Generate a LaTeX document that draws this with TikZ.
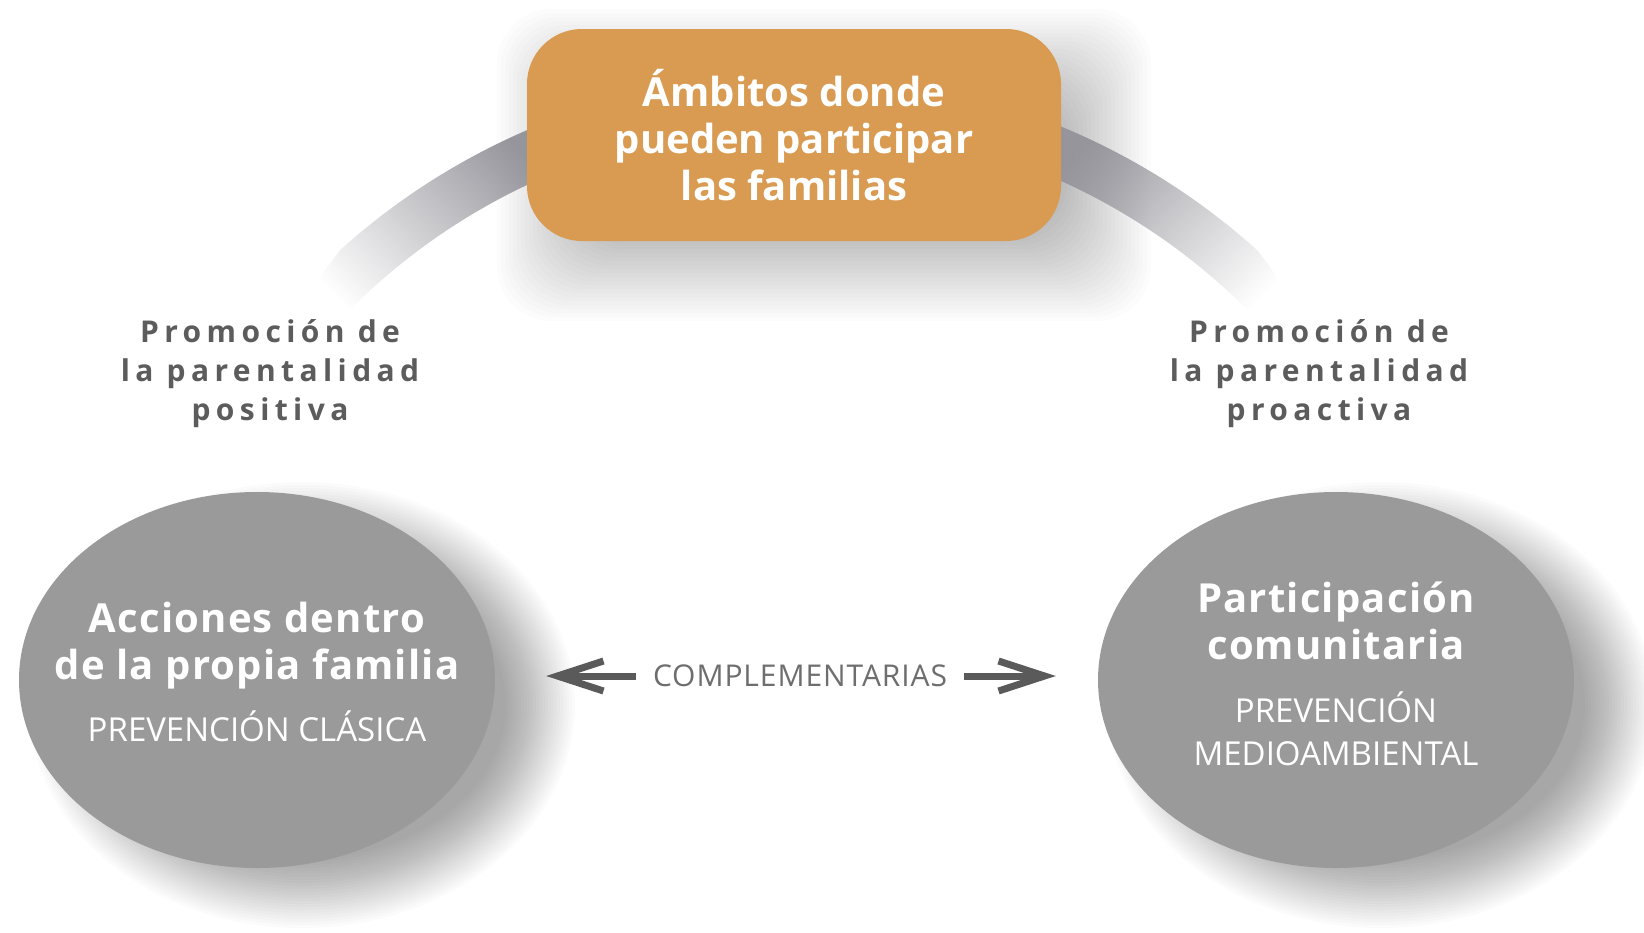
\documentclass[tikz,border=0pt]{standalone}
\usepackage{fontspec}
\setmainfont{Open Sans}
\newfontfamily\prevfamily{Open Sans}
\newcommand{\prevfont}{\prevfamily\mdseries\fontsize{33}{43}\selectfont}
\usepackage{tikz}
\usetikzlibrary{positioning, arrows.meta, shapes.geometric, calc, backgrounds, fadings}

\definecolor{ambitosorange}{RGB}{217,154,81}
\definecolor{bubblegray}{RGB}{154,154,154}
\definecolor{labelgray}{RGB}{92,92,92}
\definecolor{compgray}{RGB}{110,110,110}
\definecolor{arrowgray}{RGB}{90,90,90}
\definecolor{banddark}{RGB}{150,149,156}

\tikzfading[name=bandfade, top color=transparent!0, bottom color=transparent!100]

\begin{document}
\begin{tikzpicture}[
    x=1pt, y=1pt,
    titlebox/.style={rectangle, fill=ambitosorange, rounded corners=55pt,
                  minimum width=534pt, minimum height=212pt, align=center,
                  text=white, font=\fontsize{40}{47}\selectfont\bfseries},
    bubble/.style={ellipse, fill=bubblegray, minimum width=476pt,
                  minimum height=376pt, inner sep=0pt},
    bubbletext/.style={align=center, text=white,
                  font=\fontsize{40}{47}\selectfont\bfseries\addfontfeature{LetterSpace=3}},
    promo/.style={align=center, text=labelgray,
                  font=\fontsize{30}{39}\selectfont\bfseries\addfontfeature{LetterSpace=18}},
    arrow/.style={-{Straight Barb[length=46pt, width=30pt]}, line width=7pt, draw=arrowgray},
    complabel/.style={text=compgray, inner xsep=17pt,
                  font=\fontsize{30}{36}\selectfont\addfontfeature{LetterSpace=3}},
    band/.style={fill=banddark, path fading=bandfade}
]
    \useasboundingbox (0,0) rectangle (1644,-932);
    \coordinate (bandC) at (799,-759);

    % === Title ===
    \node[titlebox] (ambitos) at (794,-135) {Ámbitos donde\\pueden participar\\las familias};

    % === Two fields ===
    \node[bubble] (familia) at (257,-680) {};
    \node[bubbletext] (familiaTxt) at ([yshift=8pt]familia.center)
        {Acciones dentro\\de la propia familia\\[15pt]{\prevfont PREVENCIÓN CLÁSICA}};

    \node[bubble] (comunidad) at (1336,-680) {};
    \node[bubbletext] (comunidadTxt) at ([yshift=6pt]comunidad.center)
        {Participación\\comunitaria\\[16pt]{\prevfont PREVENCIÓN}\\[-4pt]{\prevfont MEDIOAMBIENTAL}};

    \node[promo] (positiva) at (270,-374) {Promoción de\\la parentalidad\\positiva};
    \node[promo] (proactiva) at (1319,-374) {Promoción de\\la parentalidad\\proactiva};

    % === Complementarias ===
    \node[complabel] (comp) at (800,-676) {COMPLEMENTARIAS};
    \draw[arrow] (comp.west) -- ($(comp.west -| familia.east)+(51,0)$);
    \draw[arrow] (comp.east) -- ($(comp.east -| comunidad.west)+(-42,0)$);

    % === Band and soft shadows ===
    \begin{scope}[on background layer]
        \fill[white] (0,0) rectangle (1644,-932);

        \foreach \k [evaluate=\k as \e using 50-4*\k] in {0,...,23}
            \fill[black, opacity=0.012, rounded corners=55pt]
                ($(ambitos.south west)+(20-\e,-30-\e)$) rectangle ($(ambitos.north east)+(40+\e,-30+\e)$);

        \fill[band, fading angle=-50]
            ([shift={(bandC)}]112:685) arc[start angle=112, end angle=132, radius=685]
            .. controls ([shift={(bandC)}]136:678) .. ([shift={(bandC)}]138.5:635)
            arc[start angle=138.5, end angle=112, radius=635] -- cycle;
        \fill[band, fading angle=50]
            ([shift={(bandC)}]68:685) arc[start angle=68, end angle=48, radius=685]
            .. controls ([shift={(bandC)}]44:678) .. ([shift={(bandC)}]41.5:635)
            arc[start angle=41.5, end angle=68, radius=635] -- cycle;

        \foreach \k in {0,...,23} {
            \fill[black, opacity=0.014] ($(familia.center)+(45,-25)$) ellipse[x radius=273-3*\k, y radius=223-3*\k];
            \fill[black, opacity=0.014] ($(comunidad.center)+(45,-25)$) ellipse[x radius=273-3*\k, y radius=223-3*\k];
        }
    \end{scope}
\end{tikzpicture}
\end{document}
